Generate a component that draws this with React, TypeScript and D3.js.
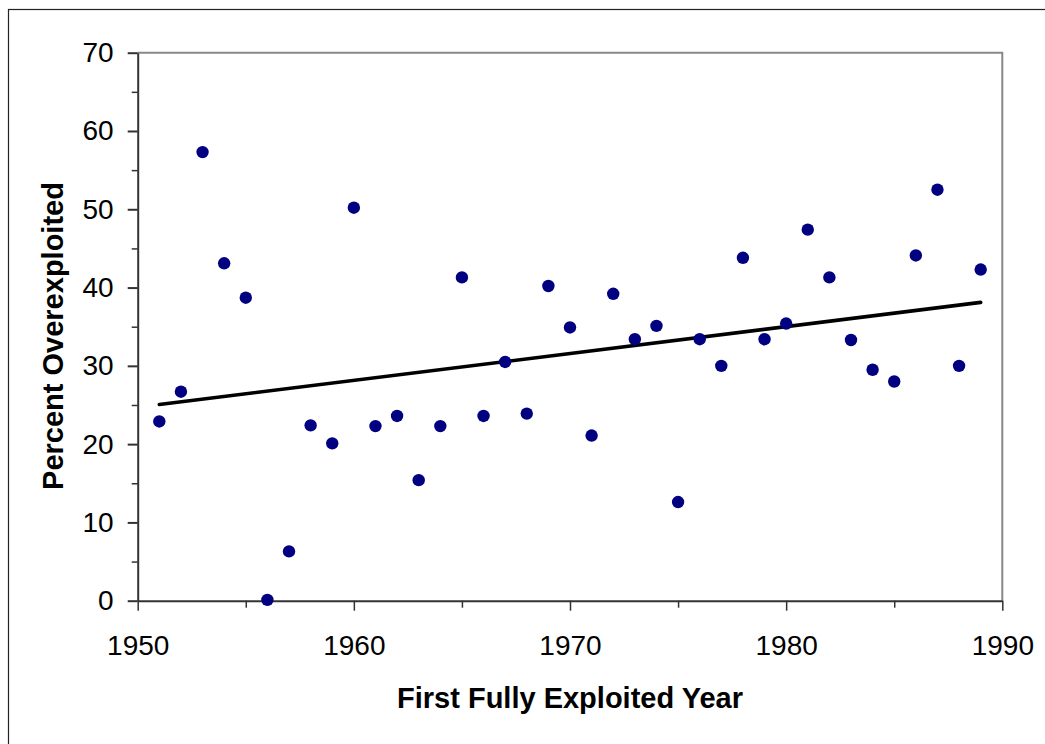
import React, { useRef, useEffect } from "react";
import * as d3 from "d3";

// Values
const years = [
	1951, 1952, 1953, 1954, 1955, 1956, 1957, 1958, 1959, 1960,
	1961, 1962, 1963, 1964, 1965, 1966, 1967, 1968, 1969, 1970,
	1971, 1972, 1973, 1974, 1975, 1976, 1977, 1978, 1979, 1980,
	1981, 1982, 1983, 1984, 1985, 1986, 1987, 1988, 1989,
];
const percentOverexploited = [
	22.9, 26.7, 57.3, 43.1, 38.7, 0.1, 6.3, 22.4, 20.1, 50.2,
	22.3, 23.6, 15.4, 22.3, 41.3, 23.6, 30.5, 23.9, 40.2, 34.9,
	21.1, 39.2, 33.4, 35.1, 12.6, 33.4, 30.0, 43.8, 33.4, 35.4,
	47.4, 41.3, 33.3, 29.5, 28.0, 44.1, 52.5, 30.0, 42.3,
];
const xTicks = [1950, 1960, 1970, 1980, 1990];
const xMinorTicks = [1955, 1965, 1975, 1985];
const yTicks = [0, 10, 20, 30, 40, 50, 60, 70];
const yMinorTicks = [5, 15, 25, 35, 45, 55, 65];

const xTitle = "First Fully Exploited Year";
const yTitle = "Percent Overexploited";

const FONT = "'Liberation Sans', Arial, sans-serif";

const ScatterTrend = () => {
	const svgRef = useRef<SVGSVGElement | null>(null);

	useEffect(() => {
		if (!svgRef.current) return;
		const svg = d3.select(svgRef.current);
		svg.selectAll("*").remove();

		const width = 1045;
		const height = 744;
		const plot = { left: 137.7, right: 1002.3, top: 52.7, bottom: 600.7 };

		// outer chart frame
		svg.append("rect")
			.attr("x", 8.5)
			.attr("y", 9.5)
			.attr("width", width + 20)
			.attr("height", height + 20)
			.attr("fill", "#fff")
			.attr("stroke", "#222")
			.attr("stroke-width", 1.2);

		const x = d3.scaleLinear().domain([1950, 1990]).range([plot.left, plot.right]);
		const y = d3.scaleLinear().domain([0, 70]).range([plot.bottom, plot.top]);

		// top and right borders of plot area
		svg.append("path")
			.attr("d", `M${plot.left},${plot.top}H${plot.right}V${plot.bottom}`)
			.attr("fill", "none")
			.attr("stroke", "#888")
			.attr("stroke-width", 2);

		// minor ticks
		svg.append("g")
			.attr("transform", `translate(${plot.left},0)`)
			.call(d3.axisLeft(y).tickValues(yMinorTicks).tickSize(6).tickSizeOuter(0).tickFormat(() => ""))
			.call((g) => g.select(".domain").remove())
			.call((g) => g.selectAll("line").attr("stroke", "#333").attr("stroke-width", 1.5));

		svg.append("g")
			.attr("transform", `translate(0,${plot.bottom})`)
			.call(d3.axisBottom(x).tickValues(xMinorTicks).tickSize(7).tickSizeOuter(0).tickFormat(() => ""))
			.call((g) => g.select(".domain").remove())
			.call((g) => g.selectAll("line").attr("stroke", "#333").attr("stroke-width", 1.5));

		// major axes
		const yAxis = svg.append("g")
			.attr("transform", `translate(${plot.left},0)`)
			.call(d3.axisLeft(y).tickValues(yTicks).tickSize(10).tickSizeOuter(0).tickPadding(14));
		yAxis.select(".domain").attr("stroke", "#333").attr("stroke-width", 2);
		yAxis.selectAll("line").attr("stroke", "#333").attr("stroke-width", 2);
		yAxis.selectAll("text")
			.attr("font-family", FONT)
			.attr("font-size", 28)
			.attr("fill", "#000");

		const xAxis = svg.append("g")
			.attr("transform", `translate(0,${plot.bottom})`)
			.call(
				d3.axisBottom(x)
					.tickValues(xTicks)
					.tickSize(10)
					.tickSizeOuter(0)
					.tickPadding(24)
					.tickFormat(d3.format("d"))
			);
		xAxis.select(".domain").attr("stroke", "#333").attr("stroke-width", 2);
		xAxis.selectAll("line").attr("stroke", "#333").attr("stroke-width", 1.5);
		xAxis.selectAll("text")
			.attr("font-family", FONT)
			.attr("font-size", 28)
			.attr("fill", "#000");

		// linear trend (least squares, like the spreadsheet trendline)
		const n = years.length;
		const mx = d3.mean(years)!;
		const my = d3.mean(percentOverexploited)!;
		let sxy = 0;
		let sxx = 0;
		for (let i = 0; i < n; i++) {
			sxy += (years[i] - mx) * (percentOverexploited[i] - my);
			sxx += (years[i] - mx) * (years[i] - mx);
		}
		const slope = sxy / sxx;
		const x0 = d3.min(years)!;
		const x1 = d3.max(years)!;
		const line = d3.line<number>()
			.x((d) => x(d))
			.y((d) => y(my + slope * (d - mx)));
		svg.append("path")
			.attr("d", line([x0, x1]))
			.attr("fill", "none")
			.attr("stroke", "#000")
			.attr("stroke-width", 3.6)
			.attr("stroke-linecap", "round");

		// points
		svg.append("g")
			.selectAll("circle")
			.data(years)
			.join("circle")
			.attr("cx", (d) => x(d))
			.attr("cy", (_, i) => y(percentOverexploited[i]))
			.attr("r", 6.2)
			.attr("fill", "#000080");

		// axis titles
		svg.append("text")
			.attr("x", (plot.left + plot.right) / 2)
			.attr("y", 708)
			.attr("text-anchor", "middle")
			.attr("font-family", FONT)
			.attr("font-weight", "bold")
			.attr("font-size", 29)
			.attr("fill", "#000")
			.text(xTitle);

		svg.append("text")
			.attr("transform", `translate(63,336) rotate(-90)`)
			.attr("text-anchor", "middle")
			.attr("font-family", FONT)
			.attr("font-weight", "bold")
			.attr("font-size", 29)
			.attr("fill", "#000")
			.text(yTitle);
	}, []);

	return (
		<div style={{ position: "absolute", left: 0, top: 0, width: 1045, height: 744, overflow: "hidden" }}>
			<svg ref={svgRef} width={1045} height={744}></svg>
		</div>
	);
};

export default function App() {
	return <ScatterTrend />;
}
